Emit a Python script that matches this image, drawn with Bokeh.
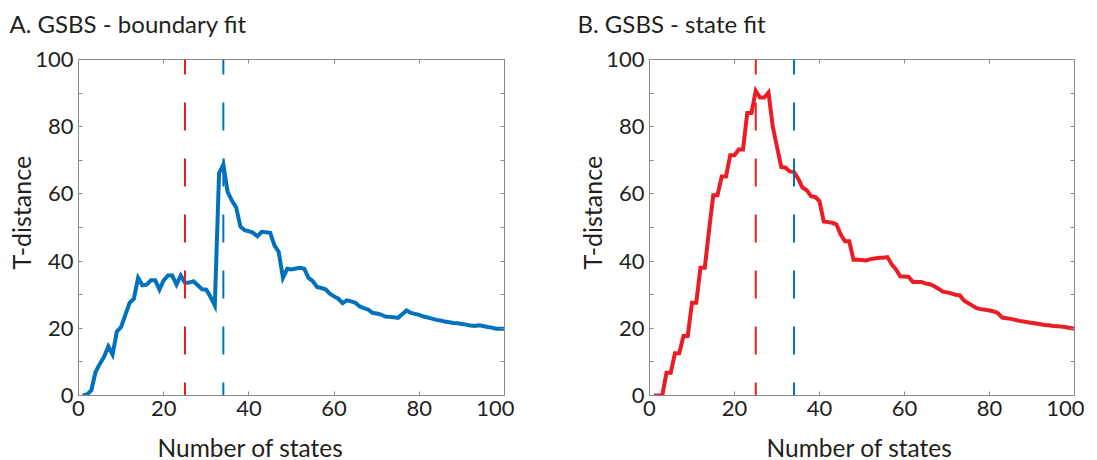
from bokeh.plotting import figure
from bokeh.layouts import row
from bokeh.models import LinearAxis, FixedTicker, CustomJSTickFormatter, Range1d, Title
from bokeh.embed import file_html
from bokeh.resources import INLINE

# ---------------- data ----------------
states = list(range(1, 101))
boundary_fit = [0, 0.3, 1.5, 7, 9.4, 11.5, 14.6, 12.2, 19, 20.4,
                24, 27.6, 28.8, 35, 32.8, 33, 34.3, 34.3, 31.5, 34.3,
                35.7, 35.7, 33, 35.7, 33.5, 33.6, 34, 32.8, 31.6, 31.5,
                29.3, 26.8, 66.2, 68.7, 60.6, 58, 56, 50.3, 49.2, 48.9,
                48.4, 47.4, 48.7, 48.6, 48.4, 44.7, 42.7, 35, 37.7, 37.5,
                37.8, 38, 37.7, 35, 34, 32.3, 32, 31.6, 30.3, 29.5,
                28.8, 27.5, 28.3, 28, 27.6, 26.5, 26, 25.6, 24.6, 24.4,
                24.1, 23.5, 23.4, 23.3, 23.1, 24.2, 25.3, 24.6, 24.3, 24,
                23.5, 23.2, 22.9, 22.5, 22.3, 22, 21.8, 21.6, 21.5, 21.3,
                21.1, 20.8, 20.7, 20.9, 20.7, 20.4, 20.2, 19.9, 19.9, 19.9]
state_fit = [0, 0, 0, 6.75, 6.75, 12.6, 12.6, 17.7, 17.7, 27.6,
             27.6, 38, 38, 49, 59.6, 59.6, 65.2, 65.2, 71.5, 71.5,
             73.2, 73.2, 84.1, 84.1, 90.7, 88.7, 88.7, 90.2, 80.1, 74,
             68, 67.8, 66.7, 66.5, 64.5, 61.9, 61.1, 59.3, 59.1, 57.8,
             51.8, 51.6, 51.4, 50.9, 47.9, 45.9, 45.9, 40.4, 40.4, 40.3,
             40.2, 40.6, 40.8, 41, 41, 41.2, 39, 37.5, 35.5, 35.4,
             35.3, 33.8, 33.8, 33.8, 33.3, 33.1, 32.5, 31.8, 30.9, 30.7,
             30.4, 30, 29.8, 28.3, 27.5, 26.7, 26, 25.7, 25.5, 25.3,
             25, 24.5, 23.2, 23, 22.8, 22.5, 22.2, 22, 21.8, 21.6,
             21.4, 21.2, 21, 20.9, 20.7, 20.6, 20.5, 20.3, 20.1, 19.9]
red_marker_state = 25
blue_marker_state = 34
x_ticks = [0, 20, 40, 60, 80, 100]
y_ticks = [0, 20, 40, 60, 80, 100]
y_minor_ticks = [10, 30, 50, 70, 90]
x_limits = (0, 100)
y_limits = (0, 100)
titles = ["A. GSBS - boundary fit", "B. GSBS - state fit"]
x_label = "Number of states"
y_label = "T-distance"

BLUE = "#0072BD"
RED = "#EC1C24"
AXIS = "#8a8a8a"
TEXT = "#231f20"
FONT = "Lato"


def make_panel(series, color, title, frame_w, left_border, title_dx, xlab_dx, ylab_dy):
    p = figure(output_backend="svg", toolbar_location=None,
               frame_width=frame_w, frame_height=336,
               min_border_left=left_border, min_border_right=10,
               min_border_top=59, min_border_bottom=65,
               x_range=Range1d(*x_limits), y_range=Range1d(*y_limits),
               x_axis_location=None, y_axis_location=None)
    p.grid.visible = False
    p.outline_line_color = AXIS
    p.background_fill_color = "white"
    p.border_fill_color = "white"

    blank = CustomJSTickFormatter(code="return ' '")

    def style(ax, labels=True, spacer=0):
        ax.axis_line_color = AXIS
        ax.major_tick_line_color = AXIS
        ax.minor_tick_line_color = AXIS
        ax.major_tick_in = 4
        ax.major_tick_out = 0
        ax.minor_tick_in = 4
        ax.minor_tick_out = 0
        ax.major_label_text_font = FONT
        ax.major_label_text_font_size = "22px"
        ax.major_label_text_color = TEXT
        ax.major_label_standoff = 5
        if not labels:
            ax.formatter = blank
            ax.major_label_standoff = spacer
            ax.major_label_text_font_size = "1px"

    bottom = LinearAxis(ticker=FixedTicker(ticks=x_ticks))
    style(bottom)
    p.add_layout(bottom, "below")
    top = LinearAxis(ticker=FixedTicker(ticks=x_ticks))
    style(top, labels=False, spacer=18)
    p.add_layout(top, "above")
    left = LinearAxis(ticker=FixedTicker(ticks=y_ticks, minor_ticks=y_minor_ticks))
    style(left)
    p.add_layout(left, "left")
    right = LinearAxis(ticker=FixedTicker(ticks=y_ticks, minor_ticks=y_minor_ticks))
    style(right, labels=False)
    p.add_layout(right, "right")

    p.line(states, series, line_color=color, line_width=4, line_join="miter")
    p.line([red_marker_state, red_marker_state], list(y_limits), line_color=RED,
           line_width=2, line_dash="28 28", line_dash_offset=15)
    p.line([blue_marker_state, blue_marker_state], list(y_limits), line_color=BLUE,
           line_width=2, line_dash="28 28", line_dash_offset=15)

    p.add_layout(Title(text=title, text_font=FONT, text_font_size="24px",
                       text_font_style="normal", text_color=TEXT,
                       align="left", offset=title_dx, standoff=0), "above")
    p.add_layout(Title(text=x_label, text_font=FONT, text_font_size="24.5px",
                       text_font_style="normal", text_color=TEXT, vertical_align="bottom",
                       align="left", offset=xlab_dx, standoff=24), "below")
    p.add_layout(Title(text=y_label, text_font=FONT, text_font_size="25px",
                       text_font_style="normal", text_color=TEXT,
                       align="left", offset=ylab_dy, standoff=-6), "left")
    return p


p1 = make_panel(boundary_fit, BLUE, titles[0], 426, 78, -69, 79, 126)
p2 = make_panel(state_fit, RED, titles[1], 425, 135, -72, 117, 126)

layout = row(p1, p2)
open("out.html", "w").write(file_html(layout, INLINE))
